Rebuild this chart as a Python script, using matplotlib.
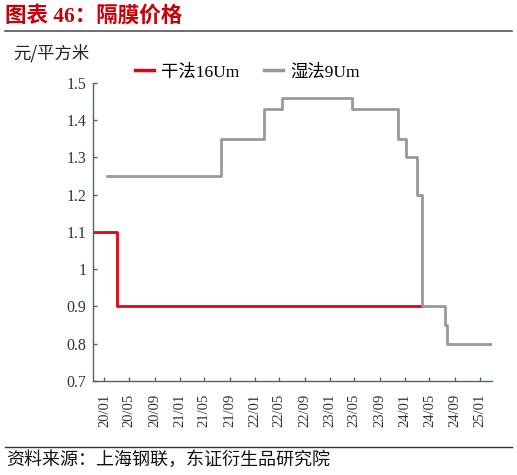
import pandas as pd
import matplotlib
matplotlib.use("Agg")
from matplotlib import pyplot as plt
from matplotlib.ticker import FuncFormatter
from matplotlib.lines import Line2D

# DATA: step change dates and prices (yuan / m2)
dry_dates = ["2019-11-08", "2020-03-03", "2024-03-28"]
dry_vals = [1.10, 0.90, 0.90]

wet_dates = ["2020-01-12", "2021-07-20", "2022-02-15", "2022-05-13", "2023-04-22",
             "2023-11-28", "2024-01-07", "2024-02-28", "2024-03-28", "2024-07-16",
             "2024-07-25", "2025-03-01"]
wet_vals = [1.25, 1.35, 1.43, 1.46, 1.43, 1.35, 1.30, 1.20, 0.90, 0.85, 0.80, 0.80]

tick_dates = pd.date_range("2020-01-01", "2025-01-01", freq="4MS")
tick_labels = [d.strftime("%y/%m") for d in tick_dates]

series_names = ["干法16Um", "湿法9Um"]
red = "#E60012"
grey = "#999999"
serif_cjk = ["Liberation Serif", "Noto Sans CJK SC"]

fig = plt.figure(figsize=(5.17, 4.75), dpi=100)
ax = fig.add_axes([0.1805, 0.198, 0.771, 0.628])

ax.plot(pd.to_datetime(dry_dates), dry_vals, drawstyle="steps-post", color=red, lw=2.0)
ax.plot(pd.to_datetime(wet_dates), wet_vals, drawstyle="steps-post", color=grey, lw=2.0)

ax.set_xlim(pd.Timestamp(dry_dates[0]), pd.Timestamp(wet_dates[-1]))
ax.set_ylim(0.7, 1.5)
ax.set_yticks([0.7, 0.8, 0.9, 1.0, 1.1, 1.2, 1.3, 1.4, 1.5])
ax.yaxis.set_major_formatter(FuncFormatter(lambda v, p: "%g" % round(v, 2)))
ax.set_xticks(tick_dates)
ax.set_xticklabels(tick_labels, rotation=90, fontsize=10.5, family="Liberation Serif", color="#333333")
for lb in ax.get_yticklabels():
    lb.set_family("Liberation Serif")
    lb.set_fontsize(11.5)
    lb.set_color("#333333")

for s in ["top", "right"]:
    ax.spines[s].set_visible(False)
for s in ["left", "bottom"]:
    ax.spines[s].set_color("#4d6666")
    ax.spines[s].set_linewidth(1.0)
ax.tick_params(direction="in", length=3, color="#4d6666", width=1.0)
ax.tick_params(axis="x", pad=9)
ax.tick_params(axis="y", pad=5)

handles = [Line2D([], [], color=red, lw=2.5), Line2D([], [], color=grey, lw=2.5)]
ax.legend(handles, series_names, loc="lower left", bbox_to_anchor=(0.088, 0.985), ncol=2,
          frameon=False, prop={"family": serif_cjk, "size": 12.5}, handlelength=1.1,
          handletextpad=0.4, columnspacing=1.4, borderaxespad=0)

fig.text(0.026, 0.888, "元/平方米", fontsize=12.5, family=["Noto Sans CJK SC"], color="#222222",
         va="center")
fig.text(0.01, 0.965, "图表 46：隔膜价格", fontsize=15.5, family=serif_cjk, color="#C8000A",
         fontweight="bold", va="center")
fig.add_artist(Line2D([0.01, 0.99], [0.935, 0.935], color="#555555", lw=1.2))
fig.add_artist(Line2D([0.01, 0.99], [0.06, 0.06], color="#333333", lw=1.0))
fig.text(0.012, 0.031, "资料来源：上海钢联，东证衍生品研究院", fontsize=13, family=serif_cjk,
         color="#111111", va="center")

fig.savefig("out.png", dpi=100)
